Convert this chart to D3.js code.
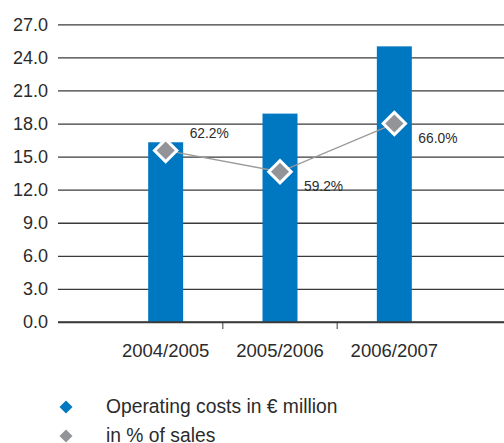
<!DOCTYPE html>
<html>
<head>
<meta charset="utf-8">
<script src="https://cdn.jsdelivr.net/npm/d3@7"></script>
<style>
  html, body { margin: 0; padding: 0; background: #fff; }
  svg { display: block; font-family: "Liberation Sans", Arial, Helvetica, sans-serif; }
</style>
</head>
<body>
<svg id="chart" width="504" height="443"></svg>
<script>
// Fiscal years shown on the category axis
const categories = ["2004/2005", "2005/2006", "2006/2007"];
// Operating costs in € million (bars, left axis)
const operatingCosts = [16.3, 18.9, 25.0];
// Operating costs as a share of sales, in % (diamond line)
const shareOfSales = [62.2, 59.2, 66.0];
const shareLabels = ["62.2%", "59.2%", "66.0%"];
// Left axis ticks
const yTicks = [0, 3, 6, 9, 12, 15, 18, 21, 24, 27];
// Where each percentage label sits relative to its diamond
const labelPlacement = ["above", "below", "below"];
// Legend entries
const legendItems = ["Operating costs in € million", "in % of sales"];

const BLUE = "#0077c1";
const GREY = "#929497";
const INK = "#2b2b2b";

const svg = d3.select("#chart");

const axisLeft = 58, axisRight = 504;
const y = d3.scaleLinear().domain([0, 27]).range([322, 24.3]);
const x = d3.scaleBand().domain(categories).range([108.5, 451.5]).padding(0);
// hidden secondary scale for the percentage line
const y2 = d3.scaleLinear().domain([38, 80]).range([322, 24.3]);

const barW = x.bandwidth() * 0.306;

// horizontal gridlines with tick labels
const grid = svg.append("g")
  .attr("transform", `translate(${axisLeft},0)`)
  .call(d3.axisLeft(y).tickValues(yTicks).tickFormat(d3.format(".1f"))
    .tickSize(-(axisRight - axisLeft)).tickPadding(10));
grid.select(".domain").remove();
grid.selectAll(".tick line").attr("stroke", "#3a3a3a").attr("stroke-width", 1.3);
grid.selectAll(".tick text")
  .attr("fill", INK).attr("font-size", 18).attr("font-family", "Liberation Sans, Arial, sans-serif");

// bars
svg.append("g").selectAll("rect")
  .data(categories)
  .join("rect")
  .attr("x", (d) => x(d) + x.bandwidth() / 2 - barW / 2)
  .attr("width", barW)
  .attr("y", (d, i) => y(operatingCosts[i]))
  .attr("height", (d, i) => y(0) - y(operatingCosts[i]))
  .attr("fill", BLUE);

// baseline redrawn over bars
svg.append("line")
  .attr("x1", axisLeft).attr("x2", axisRight)
  .attr("y1", y(0)).attr("y2", y(0))
  .attr("stroke", "#3a3a3a").attr("stroke-width", 1.3);

// category separators below the baseline
const boundaries = categories.slice(1).map((c) => x(c));
svg.append("g").selectAll("line")
  .data(boundaries)
  .join("line")
  .attr("x1", (d) => d).attr("x2", (d) => d)
  .attr("y1", y(0)).attr("y2", y(0) + 7)
  .attr("stroke", "#3a3a3a").attr("stroke-width", 1);

// category labels
svg.append("g").selectAll("text")
  .data(categories)
  .join("text")
  .attr("x", (d) => x(d) + x.bandwidth() / 2)
  .attr("y", 357)
  .attr("text-anchor", "middle")
  .attr("font-size", 18.5)
  .attr("fill", INK)
  .text((d) => d);

// percentage line
const pts = categories.map((c, i) => [x(c) + x.bandwidth() / 2, y2(shareOfSales[i])]);
svg.append("path")
  .attr("d", d3.line()(pts))
  .attr("fill", "none")
  .attr("stroke", "#9a9a9a")
  .attr("stroke-width", 1.3);

const diamond = d3.symbol().type(d3.symbolSquare).size(250);
svg.append("g").selectAll("path")
  .data(pts)
  .join("path")
  .attr("d", diamond)
  .attr("transform", (d) => `translate(${d[0]},${d[1]}) rotate(45)`)
  .attr("fill", GREY)
  .attr("stroke", "#fff")
  .attr("stroke-width", 3);

svg.append("g").selectAll("text")
  .data(pts)
  .join("text")
  .attr("x", (d) => d[0] + 24)
  .attr("y", (d, i) => labelPlacement[i] === "above" ? d[1] - 12 : d[1] + 19)
  .attr("font-size", 13.8)
  .attr("fill", INK)
  .text((d, i) => shareLabels[i]);

// legend
const legendColors = [BLUE, GREY];
const legend = svg.append("g").selectAll("g")
  .data(legendItems)
  .join("g")
  .attr("transform", (d, i) => `translate(66,${407 + i * 29})`);
legend.append("path")
  .attr("d", d3.symbol().type(d3.symbolSquare).size(85))
  .attr("transform", "rotate(45)")
  .attr("fill", (d, i) => legendColors[i]);
legend.append("text")
  .attr("x", 40)
  .attr("y", 6)
  .attr("font-size", 19.3)
  .attr("fill", INK)
  .text((d) => d);
</script>
</body>
</html>
